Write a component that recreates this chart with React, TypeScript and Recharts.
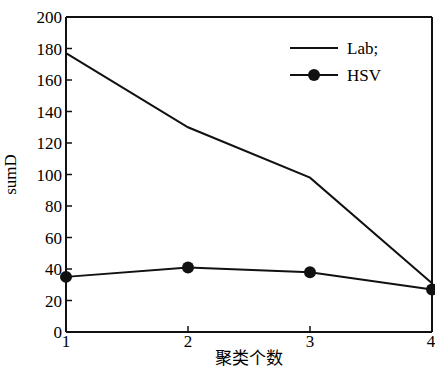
import React from "react";
import { LineChart, Line, XAxis, YAxis, ReferenceLine, Label } from "recharts";

const clusterCounts = [1, 2, 3, 4];
const labValues = [177, 130, 98, 31];
const hsvValues = [35, 41, 38, 27];
const yTicks = [0, 20, 40, 60, 80, 100, 120, 140, 160, 180, 200];

const data = clusterCounts.map((k, i) => ({ k, lab: labValues[i], hsv: hsvValues[i] }));

const font = "'Liberation Serif', 'Times New Roman', serif";

// plain black tick text, recharts passes x/y/textAnchor already offset by tickMargin
function TickText(props: any) {
  const { x, y, payload, textAnchor, verticalAnchor } = props;
  const dy = verticalAnchor === "start" ? 13 : 6;
  return (
    <text x={x} y={y} dy={dy} textAnchor={textAnchor} fontFamily={font} fontSize={17} fill="#000">
      {payload.value}
    </text>
  );
}

function ChartLegend() {
  return (
    <svg width={110} height={60} style={{ position: "absolute", left: 290, top: 38 }}>
      <line x1={0} y1={10} x2={48} y2={10} stroke="#111" strokeWidth={2} />
      <text x={57} y={16} fontFamily={font} fontSize={17} fill="#000">Lab;</text>
      <line x1={0} y1={37} x2={48} y2={37} stroke="#111" strokeWidth={2} />
      <circle cx={24} cy={37} r={6} fill="#111" />
      <text x={57} y={43} fontFamily={font} fontSize={17} fill="#000">HSV</text>
    </svg>
  );
}

export default function App() {
  return (
    <div style={{ position: "absolute", left: 0, top: 0, width: 435, height: 370, background: "#fff" }}>
      <LineChart width={435} height={370} data={data} margin={{ top: 17, right: 3, bottom: 0, left: 0 }}>
        <XAxis
          dataKey="k"
          type="number"
          domain={[1, 4]}
          ticks={clusterCounts}
          tick={<TickText />}
          stroke="#111"
          strokeWidth={2}
          tickSize={-6}
          tickMargin={8}
          height={38}
          tickLine={{ stroke: "#111", strokeWidth: 1.5 }}
        >
          <Label value="聚类个数" position="insideBottom" offset={6} style={{ fontFamily: "'Noto Sans CJK SC', sans-serif", fontSize: 17, fill: "#000" }} />
        </XAxis>
        <YAxis
          domain={[0, 200]}
          ticks={yTicks}
          tick={<TickText />}
          stroke="#111"
          strokeWidth={2}
          tickSize={-6}
          tickMargin={10}
          width={66}
          interval={0}
          tickLine={{ stroke: "#111", strokeWidth: 1.5 }}
        >
          <Label value="sumD" angle={-90} position="insideLeft" offset={10} style={{ fontFamily: font, fontSize: 17, fill: "#000", textAnchor: "middle" }} />
        </YAxis>
        <ReferenceLine y={200} stroke="#111" strokeWidth={2} />
        <ReferenceLine x={4} stroke="#111" strokeWidth={2} />
        <Line dataKey="lab" stroke="#111" strokeWidth={2} dot={false} isAnimationActive={false} />
        <Line dataKey="hsv" stroke="#111" strokeWidth={2} dot={{ r: 6, fill: "#111", stroke: "#111", strokeWidth: 0 }} isAnimationActive={false} />
      </LineChart>
      <ChartLegend />
    </div>
  );
}
